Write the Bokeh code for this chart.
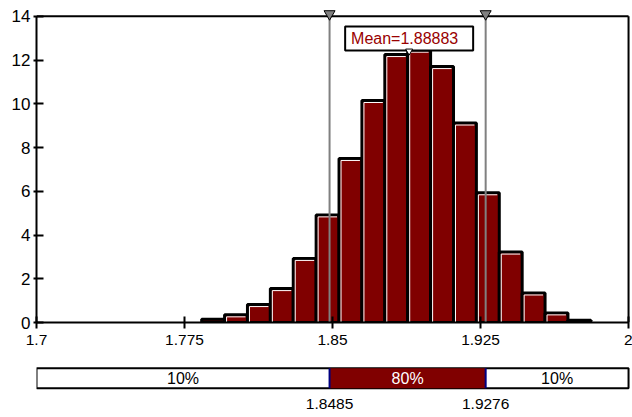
from bokeh.plotting import figure
from bokeh.models import Range1d, FixedTicker
from bokeh.layouts import column
from bokeh.embed import file_html
from bokeh.resources import INLINE
from bokeh.core.properties import value

# ---- data ----
bin_start = 1.7837
bin_width = 0.0116
heights = [0.15, 0.35, 0.82, 1.55, 2.93, 4.92, 7.5, 10.15, 12.25, 12.45,
           11.7, 9.12, 5.93, 3.22, 1.35, 0.44, 0.1]
x_ticks = [1.7, 1.775, 1.85, 1.925, 2.0]
x_tick_labels = ["1.7", "1.775", "1.85", "1.925", "2"]
y_ticks = [0, 2, 4, 6, 8, 10, 12, 14]
mean_val = 1.88883
p_low = 1.8485
p_high = 1.9276
x_min, x_max = 1.7, 2.0
y_max = 14
pct_labels = ["10%", "80%", "10%"]

edges = [bin_start + i * bin_width for i in range(len(heights) + 1)]
lefts = edges[:-1]
rights = edges[1:]

MAROON = "#800000"
FONT = "Liberation Sans"

FW, FH = 595, 313
x_range = Range1d(x_min, 2.0015)
px_x = FW / (2.0015 - x_min)
y_end = 14.31
px_y = FH / y_end

p = figure(frame_width=FW, frame_height=FH, x_range=x_range,
           y_range=Range1d(0, y_end), output_backend="svg",
           toolbar_location=None, min_border_left=36, min_border_right=1,
           min_border_top=9, min_border_bottom=36)
p.outline_line_color = None
p.xgrid.visible = False
p.ygrid.visible = False
p.background_fill_color = "white"

# bars
p.quad(left=lefts, right=rights, bottom=0, top=heights,
       fill_color=MAROON, line_color="black", line_width=3)
# white bevel highlight (top and left inner edges)
dx = 2.0 / px_x
dy = 2.0 / px_y
hl_x0, hl_y0, hl_x1, hl_y1 = [], [], [], []
for l, r, h in zip(lefts, rights, heights):
    if h > 3 * dy:
        hl_x0 += [l + dx, l + dx]
        hl_y0 += [0, h - dy]
        hl_x1 += [l + dx, r - dx]
        hl_y1 += [h - dy, h - dy]
p.segment(x0=hl_x0, y0=hl_y0, x1=hl_x1, y1=hl_y1, line_color="white", line_width=1)

# frame lines
p.segment(x0=[x_min], y0=[y_max], x1=[x_max], y1=[y_max], line_color="black", line_width=2)
p.segment(x0=[x_max], y0=[0], x1=[x_max], y1=[y_max], line_color="black", line_width=2)

# percentile lines + markers
tri_y = y_max + 2.4 / px_y
p.segment(x0=[p_low, p_high], y0=[0, 0], x1=[p_low, p_high], y1=[tri_y, tri_y],
          line_color="#808080", line_width=2)
p.scatter(x=[p_low, p_high], y=[tri_y, tri_y], marker="inverted_triangle", size=11,
          fill_color="#808080", line_color="black", line_width=1)

# mean box
box_y = y_max - 22.2 / px_y
p.rect(x=[mean_val], y=[box_y], width=128, height=24, width_units="screen",
       height_units="screen", fill_color="white", line_color="black", line_width=2)
p.text(x=[mean_val - 4.5 / px_x], y=[box_y], text=["Mean=" + str(mean_val)],
       text_align="center", text_baseline="middle", text_color="#990000",
       text_font=value(FONT), text_font_size="16px")
p.scatter(x=[mean_val], y=[y_max - 34.8 / px_y], marker="inverted_triangle", size=7,
          fill_color="white", line_color="black", line_width=1)

# axes
p.xaxis.ticker = FixedTicker(ticks=x_ticks)
p.xaxis.major_label_overrides = {t: s for t, s in zip(x_ticks, x_tick_labels)}
p.xaxis.bounds = (x_min, x_max)
p.xaxis.axis_line_width = 2
p.xaxis.major_tick_line_width = 2
p.xaxis.major_tick_in = 6
p.xaxis.major_tick_out = 6
p.xaxis.minor_tick_line_color = None
p.xaxis.major_label_standoff = 6
p.xaxis.major_label_text_font = FONT
p.xaxis.major_label_text_font_size = "15.5px"
p.xaxis.major_label_text_color = "black"

p.yaxis.ticker = FixedTicker(ticks=y_ticks)
p.yaxis.bounds = (0, y_max)
p.yaxis.axis_line_width = 2
p.yaxis.major_tick_line_width = 2
p.yaxis.major_tick_in = 7
p.yaxis.major_tick_out = 3
p.yaxis.minor_tick_line_color = None
p.yaxis.major_label_standoff = 3
p.yaxis.major_label_text_font = FONT
p.yaxis.major_label_text_font_size = "17px"
p.yaxis.major_label_text_color = "black"

# ---- bottom strip ----
SH = 59
s_end = 1 + 9.7 / 20
s_start = s_end - SH / 20
s = figure(frame_width=FW, frame_height=SH, x_range=x_range,
           y_range=Range1d(s_start, s_end), output_backend="svg",
           toolbar_location=None, min_border_left=36, min_border_right=1,
           min_border_top=0, min_border_bottom=0)
s.axis.visible = False
s.xgrid.visible = False
s.ygrid.visible = False
s.outline_line_color = None

s.quad(left=[x_min], right=[x_max], bottom=[0], top=[1], fill_color="white",
       line_color="black", line_width=2)
s.quad(left=[p_low], right=[p_high], bottom=[0], top=[1], fill_color=MAROON,
       line_color=None)
s.segment(x0=[p_low, p_high], y0=[0, 0], x1=[p_low, p_high], y1=[1, 1],
          line_color="#000080", line_width=2)
seg_centers = [(x_min + p_low) / 2, (p_low + p_high) / 2, (p_high + x_max) / 2]
s.text(x=seg_centers, y=[0.5] * 3, text=pct_labels, text_align="center",
       text_baseline="middle", text_color=["black", "white", "black"],
       text_font=value(FONT), text_font_size="16px")
s.text(x=[p_low, p_high], y=[-0.8, -0.8], text=[str(p_low), str(p_high)],
       text_align="center", text_baseline="middle", text_color="black",
       text_font=value(FONT), text_font_size="15.5px")

layout = column(p, s, spacing=0)
open("out.html", "w").write(file_html(layout, INLINE))
